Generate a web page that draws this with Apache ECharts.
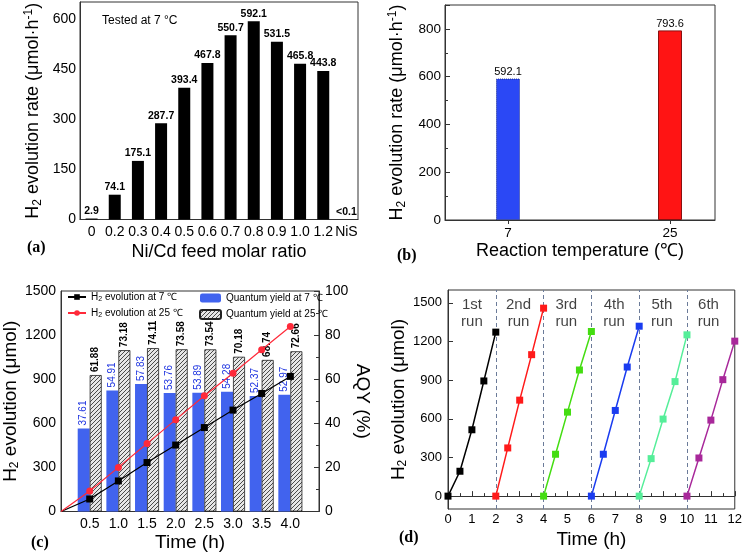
<!DOCTYPE html>
<html><head><meta charset="utf-8">
<script src="https://cdn.jsdelivr.net/npm/echarts@6/dist/echarts.min.js"></script>
<style>html,body{margin:0;padding:0;background:#fff}#c{width:745px;height:554px}</style>
</head><body><div id="c"></div>
<script>
// ---------- Panel (a) ----------
const aCats = ['0','0.2','0.3','0.4','0.5','0.6','0.7','0.8','0.9','1.0','1.2','NiS'];
const aRates = [2.9,74.1,175.1,287.7,393.4,467.8,550.7,592.1,531.5,465.8,443.8,0];
const aLabels = ['2.9','74.1','175.1','287.7','393.4','467.8','550.7','592.1','531.5','465.8','443.8','<0.1'];
// ---------- Panel (b) ----------
const bTemps = [7,25];
const bRates = [592.1,793.6];
const bColors = ['#2b48f5','#ff1414'];
// ---------- Panel (c) ----------
const cTimes = [0.5,1.0,1.5,2.0,2.5,3.0,3.5,4.0];
const cH2at7 = [85,208,333,452,571,690,803,919];
const cH2at25 = [140,300,462,625,787,940,1100,1258];
const cAQY7 = [37.61,54.91,57.83,53.76,53.89,54.28,52.37,52.97];
const cAQY25 = [61.88,73.18,74.11,73.58,73.54,70.18,68.74,72.66];
// ---------- Panel (d) ----------
const dRunTimes = [
  [0,0.5,1,1.5,2],[2,2.5,3,3.5,4],[4,4.5,5,5.5,6],
  [6,6.5,7,7.5,8],[8,8.5,9,9.5,10],[10,10.5,11,11.5,12]];
const dRunValues = [
  [0,193,515,894,1273],[0,374,745,1098,1459],[0,325,652,979,1278],
  [0,325,665,1002,1319],[0,291,598,889,1252],[0,296,590,904,1203]];
const dRunColors = ['#000000','#ff1a1a','#44dd11','#1a3cf0','#55ee99','#a8289a'];
const dRunLabels = ['1st\nrun','2nd\nrun','3rd\nrun','4th\nrun','5th\nrun','6th\nrun'];
const dRunLabelX = [1,2.95,4.95,6.95,8.95,10.9];
const dDividers = [2,4,6,8,10];
const dYTicks = [0,300,600,900,1200,1500];

const FF = "'Liberation Sans', Arial, sans-serif";
const SERIF = "'Liberation Serif', 'Times New Roman', serif";
const nameRich = {
  s: {fontSize: 12, fontFamily: FF, padding: [9,0,0,0]},
  p: {fontSize: 12, fontFamily: FF, padding: [0,0,9,0]}
};
const axLine = {show: true, lineStyle: {color: '#333', width: 1}};
const plain = v => String(v);
function lbl(sz, margin) { return {color: '#000', fontSize: sz, fontFamily: FF, margin: margin, formatter: plain}; }

// hatch pattern
const hc = document.createElement('canvas');
hc.width = 4; hc.height = 4;
const hx = hc.getContext('2d');
hx.fillStyle = '#e6e6e6'; hx.fillRect(0,0,4,4);
hx.strokeStyle = '#4a4a4a'; hx.lineWidth = 1;
hx.beginPath();
hx.moveTo(0,4); hx.lineTo(4,0);
hx.moveTo(-1,1); hx.lineTo(1,-1);
hx.moveTo(3,5); hx.lineTo(5,3);
hx.stroke();
const hatch = {image: hc, repeat: 'repeat'};

const chart = echarts.init(document.getElementById('c'));

const legendFmt = n => n.replace('H2', 'H{s|2}');
const legRich = {s: {fontSize: 7, padding: [5,0,0,0]}};

const option = {
  animation: false,
  backgroundColor: '#fff',
  grid: [
    {left: 80, top: 2, width: 278, height: 217.5, show: true, borderColor: '#333', borderWidth: 1},
    {left: 445, top: 5, width: 270, height: 215, show: true, borderColor: '#333', borderWidth: 1},
    {left: 55, top: 291, width: 264, height: 220.5, show: true, borderColor: '#333', borderWidth: 1},
    {left: 448, top: 290, width: 288, height: 219, show: true, borderColor: '#333', borderWidth: 1}
  ],
  xAxis: [
    {gridIndex: 0, type: 'category', data: aCats, axisLine: axLine, axisTick: {show: false},
     axisLabel: {color: '#000', fontSize: 14, fontFamily: FF, margin: 6, interval: 0},
     name: 'Ni/Cd feed molar ratio', nameLocation: 'middle', nameGap: 24,
     nameTextStyle: {fontSize: 18, fontFamily: FF, color: '#000'}},
    {gridIndex: 1, type: 'value', min: 0, max: 30, axisLine: axLine, splitLine: {show: false},
     axisTick: {show: true, inside: false, length: 4, customValues: bTemps, lineStyle: {color: '#333'}},
     axisLabel: Object.assign(lbl(13.5, 6), {customValues: bTemps}),
     name: 'Reaction temperature (℃)', nameLocation: 'middle', nameGap: 22,
     nameTextStyle: {fontSize: 18, fontFamily: FF, color: '#000'}},
    {gridIndex: 2, type: 'value', min: 0, max: 4.5, interval: 0.5, axisLine: axLine, splitLine: {show: false},
     axisTick: {show: false},
     axisLabel: Object.assign(lbl(14, 6), {formatter: v => (v < 0.25 || v > 4.25) ? '' : v.toFixed(1)}),
     name: 'Time (h)', nameLocation: 'middle', nameGap: 22,
     nameTextStyle: {fontSize: 19, fontFamily: FF, color: '#000'}},
    {gridIndex: 3, type: 'value', min: 0, max: 12, interval: 1, axisLine: axLine, splitLine: {show: false},
     axisTick: {show: true, inside: true, length: 5, lineStyle: {color: '#333'}},
     minorTick: {show: true, splitNumber: 2, length: 3, lineStyle: {color: '#333'}},
     axisLabel: lbl(13, 4),
     name: 'Time (h)', nameLocation: 'middle', nameGap: 21,
     nameTextStyle: {fontSize: 19, fontFamily: FF, color: '#000'}}
  ],
  yAxis: [
    {gridIndex: 0, type: 'value', min: 0, max: 650, interval: 150, axisLine: axLine, splitLine: {show: false},
     axisTick: {show: false}, axisLabel: Object.assign(lbl(14, 4), {showMaxLabel: false}),
     name: 'H{s|2} evolution rate (μmol·h{p|-1})', nameLocation: 'middle', nameGap: 36,
     nameTextStyle: {fontSize: 18, fontFamily: FF, color: '#000', rich: nameRich}},
    {gridIndex: 1, type: 'value', min: 0, max: 900, interval: 200, axisLine: axLine, splitLine: {show: false},
     axisTick: {show: true, inside: true, length: 5, lineStyle: {color: '#333'}},
     minorTick: {show: true, splitNumber: 2, length: 3, lineStyle: {color: '#333'}},
     axisLabel: Object.assign(lbl(13.5, 4), {showMaxLabel: false}),
     name: 'H{s|2} evolution rate (μmol·h{p|-1})', nameLocation: 'middle', nameGap: 37,
     nameTextStyle: {fontSize: 18, fontFamily: FF, color: '#000', rich: nameRich}},
    {gridIndex: 2, type: 'value', min: 0, max: 1500, interval: 300, axisLine: axLine, splitLine: {show: false},
     axisTick: {show: false}, axisLabel: lbl(14, 5),
     name: 'H{s|2} evolution (μmol)', nameLocation: 'middle', nameGap: 38,
     nameTextStyle: {fontSize: 19, fontFamily: FF, color: '#000', rich: nameRich}},
    {gridIndex: 2, type: 'value', position: 'right', min: 0, max: 100, interval: 20, axisLine: axLine, splitLine: {show: false},
     axisTick: {show: true, inside: true, length: 5, lineStyle: {color: '#333'}},
     minorTick: {show: true, splitNumber: 2, length: 3, lineStyle: {color: '#333'}},
     axisLabel: lbl(14, 6),
     name: 'AQY (%)', nameLocation: 'middle', nameGap: 28, nameRotate: -90,
     nameTextStyle: {fontSize: 19, fontFamily: FF, color: '#000'}},
    {gridIndex: 3, type: 'value', min: -100, max: 1600, axisLine: axLine, splitLine: {show: false},
     axisTick: {show: true, inside: true, length: 5, customValues: dYTicks, lineStyle: {color: '#333'}},
     axisLabel: Object.assign(lbl(13, 6), {customValues: dYTicks}),
     name: 'H{s|2} evolution (μmol)', nameLocation: 'middle', nameGap: 39,
     nameTextStyle: {fontSize: 19, fontFamily: FF, color: '#000', rich: nameRich}}
  ],
  legend: [
    {left: 67, top: 292, orient: 'vertical', itemWidth: 18, itemHeight: 7, itemGap: 5, padding: 0,
     data: ['H2 evolution at 7 ℃', 'H2 evolution at 25 ℃'], formatter: legendFmt,
     textStyle: {fontSize: 10, fontFamily: FF, color: '#000', rich: legRich}},
    {left: 199, top: 293, orient: 'vertical', itemWidth: 21, itemHeight: 9, itemGap: 6, padding: 0,
     data: ['Quantum yield at 7 ℃', 'Quantum yield at 25 ℃'],
     textStyle: {fontSize: 10, fontFamily: FF, color: '#000'}}
  ],
  graphic: [
    {type: 'text', left: 102, top: 15, style: {text: 'Tested at 7 °C', fontSize: 12, fontFamily: FF, fill: '#000'}},
    {type: 'text', left: 27, top: 240, style: {text: '(a)', fontSize: 16, fontWeight: 'bold', fontFamily: SERIF, fill: '#000'}},
    {type: 'text', left: 397, top: 248, style: {text: '(b)', fontSize: 16, fontWeight: 'bold', fontFamily: SERIF, fill: '#000'}},
    {type: 'text', left: 31, top: 535, style: {text: '(c)', fontSize: 16, fontWeight: 'bold', fontFamily: SERIF, fill: '#000'}},
    {type: 'text', left: 399, top: 530, style: {text: '(d)', fontSize: 16, fontWeight: 'bold', fontFamily: SERIF, fill: '#000'}}
  ],
  series: []
};

// (a)
option.series.push({
  type: 'bar', xAxisIndex: 0, yAxisIndex: 0, data: aRates, barWidth: 12,
  itemStyle: {color: '#000'},
  label: {show: true, position: 'top', distance: 2, fontSize: 10.5, fontWeight: 'bold', fontFamily: FF, color: '#000',
          formatter: p => aLabels[p.dataIndex]}
});
// (b)
option.series.push({
  type: 'bar', xAxisIndex: 1, yAxisIndex: 1, barWidth: 24,
  data: bTemps.map((t, i) => ({value: [t, bRates[i]], itemStyle: {color: bColors[i], borderColor: i === 0 ? '#1a2a90' : '#8a1010', borderWidth: 1, borderType: i === 0 ? 'dotted' : 'solid'}})),
  label: {show: true, position: 'top', distance: 1, fontSize: 11, fontFamily: FF, color: '#000',
          formatter: p => bRates[p.dataIndex].toFixed(1)}
});
// (c) bars
option.series.push({
  name: 'Quantum yield at 7 ℃', type: 'bar', xAxisIndex: 2, yAxisIndex: 3, barWidth: 12, barGap: '0%',
  data: cTimes.map((t, i) => [t, cAQY7[i]]),
  itemStyle: {color: '#4163ee'},
  label: {show: true, position: 'top', rotate: 90, align: 'left', verticalAlign: 'middle', distance: 3,
          fontSize: 10, fontFamily: FF, color: '#1f35e0', formatter: p => cAQY7[p.dataIndex].toFixed(2)}
});
option.series.push({
  name: 'Quantum yield at 25 ℃', type: 'bar', xAxisIndex: 2, yAxisIndex: 3, barWidth: 12, barGap: '0%',
  data: cTimes.map((t, i) => [t, cAQY25[i]]),
  itemStyle: {color: hatch, borderColor: '#222', borderWidth: 0.8},
  label: {show: true, position: 'top', rotate: 90, align: 'left', verticalAlign: 'middle', distance: 3,
          fontSize: 10, fontWeight: 'bold', fontFamily: FF, color: '#000', formatter: p => cAQY25[p.dataIndex].toFixed(2)}
});
// (c) lines
option.series.push({
  name: 'H2 evolution at 7 ℃', type: 'line', xAxisIndex: 2, yAxisIndex: 2, symbol: 'rect', symbolSize: 7,
  data: [{value: [0, 0], symbol: 'none'}].concat(cTimes.map((t, i) => [t, cH2at7[i]])),
  itemStyle: {color: '#000'}, lineStyle: {color: '#000', width: 1.2}, z: 5
});
option.series.push({
  name: 'H2 evolution at 25 ℃', type: 'line', xAxisIndex: 2, yAxisIndex: 2, symbol: 'circle', symbolSize: 7,
  data: [{value: [0, 0], symbol: 'none'}].concat(cTimes.map((t, i) => [t, cH2at25[i]])),
  itemStyle: {color: '#ff2a3a'}, lineStyle: {color: '#ff2a3a', width: 1.2}, z: 5
});
// (d)
dRunValues.forEach((vals, r) => {
  const s = {
    type: 'line', xAxisIndex: 3, yAxisIndex: 4, symbol: 'rect', symbolSize: 7,
    data: dRunTimes[r].map((t, i) => [t, vals[i]]),
    itemStyle: {color: dRunColors[r]}, lineStyle: {color: dRunColors[r], width: 1.5}, z: 5
  };
  if (r === 0) {
    s.markLine = {silent: true, symbol: ['none', 'none'], label: {show: false},
      lineStyle: {type: [4, 3], color: '#6b7b99', width: 1},
      data: dDividers.map(v => ({xAxis: v}))};
  }
  option.series.push(s);
});
option.series.push({
  type: 'scatter', xAxisIndex: 3, yAxisIndex: 4, symbolSize: 0, silent: true,
  data: dRunLabelX.map(x => [x, 1420]),
  label: {show: true, position: 'inside', fontSize: 15, lineHeight: 17, fontFamily: FF, color: '#111',
          formatter: p => dRunLabels[p.dataIndex]}
});

chart.setOption(option);
</script></body></html>
